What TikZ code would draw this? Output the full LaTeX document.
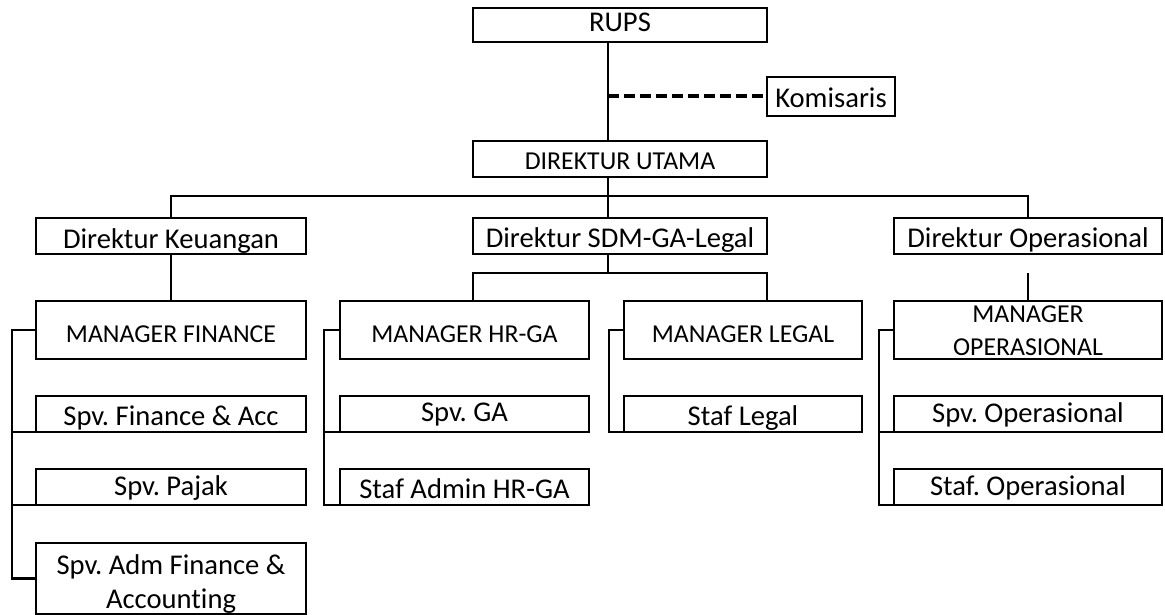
\documentclass[tikz,border=0pt]{standalone}
\usepackage{fontspec}
\setmainfont{Carlito}[Ligatures={NoCommon},RawFeature={-liga;-dlig;-clig}]
\frenchspacing
\newcommand\bigtxt{\fontsize{28.6pt}{34pt}\selectfont}
\newcommand\smtxt{\fontsize{25.8pt}{33pt}\selectfont}
\tikzset{
  box/.style={draw, line width=2.2pt, rectangle, inner sep=0pt, outer sep=0pt, text depth=0pt, font=\bigtxt},
  smallbox/.style={box, font=\smtxt},
  conn/.style={line width=2.2pt},
  dashline/.style={line width=4pt, dash pattern=on 11pt off 5pt},
}
\begin{document}
\begin{tikzpicture}[x=1pt,y=-1pt]
\useasboundingbox (0,0) rectangle (1165,615);
% top
\node[box, minimum width=294pt, minimum height=34pt, text height=14pt] (rups) at (620,25) {RUPS};
\node[box, minimum width=128pt, minimum height=39pt, text height=23pt] (kom) at (831,96.5) {Komisaris};
\node[smallbox, minimum width=294pt, minimum height=36pt, text height=22pt] (du) at (620,159) {DIREKTUR UTAMA};
% directors
\node[box, minimum width=270pt, minimum height=36pt, text height=24pt] (dk) at (171,236) {Direktur Keuangan};
\node[box, minimum width=294pt, minimum height=36pt, text height=22pt] (dsdm) at (620,236) {Direktur SDM-GA-Legal};
\node[box, minimum width=268pt, minimum height=36pt, text height=22pt] (do) at (1028,236) {Direktur Operasional};
% managers
\node[smallbox, minimum width=270pt, minimum height=58pt, text height=24pt] (mf) at (171,330) {MANAGER FINANCE};
\node[smallbox, minimum width=249pt, minimum height=58pt, text height=24pt] (mhr) at (464.5,330) {MANAGER HR-GA};
\node[smallbox, minimum width=238pt, minimum height=58pt, text height=24pt] (mlg) at (743,330) {MANAGER LEGAL};
\node[smallbox, minimum width=268pt, minimum height=58pt, text height=50pt] (mo) at (1028,330) {\begin{tabular}[b]{@{}c@{}}MANAGER\\[0pt]OPERASIONAL\end{tabular}};
% staff column 1
\node[box, minimum width=270pt, minimum height=36pt, text height=22pt] (sfa) at (171,414) {Spv. Finance \& Acc};
\node[box, minimum width=270pt, minimum height=36pt, text height=16pt] (sp) at (171,487) {Spv. Pajak};
\node[box, minimum width=270pt, minimum height=71pt, text height=59pt] (adm) at (171,578.5) {\begin{tabular}[b]{@{}c@{}}Spv. Adm Finance \&\\Account\kern0pt ing\end{tabular}};
% column 2
\node[box, minimum width=249pt, minimum height=36pt, text height=14pt] (sga) at (464.5,414) {Spv. GA};
\node[box, minimum width=249pt, minimum height=36pt, text height=22pt] (sah) at (464.5,487) {Staf Admin HR-GA};
% column 3
\node[box, minimum width=238pt, minimum height=36pt, text height=22pt] (sl) at (743,414) {Staf Legal};
% column 4
\node[box, minimum width=268pt, minimum height=36pt, text height=16pt] (so) at (1028,414) {Spv. Operasional};
\node[box, minimum width=268pt, minimum height=36pt, text height=16pt] (sto) at (1028,487) {Staf. Operasional};
% helper coordinates
\coordinate (spine) at (608,0);
\coordinate (bar) at (0,196);
\coordinate (bar2) at (0,273);
\coordinate (b1) at (12,0);
\coordinate (b2) at (324,0);
\coordinate (b3) at (609,0);
\coordinate (b4) at (879,0);
% connectors
\draw[conn] (rups.south -| spine) -- (du.north -| spine);
\draw[dashline] (kom.west -| spine) -- (kom.west);
\draw[conn] (du.south -| spine) -- (dsdm.north -| spine);
\draw[conn] (dk.north) -- (dk.north |- bar) -- (do.north |- bar) -- (do.north);
\draw[conn] (dsdm.south -| spine) -- (bar2 -| spine);
\draw[conn] (mhr.north -| dsdm.west) -- (bar2 -| dsdm.west) -- (bar2 -| dsdm.east) -- (mlg.north -| dsdm.east);
\draw[conn] (dk.south) -- (mf.north);
\draw[conn] (mo.north) -- (mo.north |- bar2);
% brackets
\draw[conn] (mf.west) -- (mf.west -| b1) -- (adm.west -| b1) -- (adm.west);
\draw[conn] (sfa.south west -| b1) -- (sfa.south west);
\draw[conn] (sp.south west -| b1) -- (sp.south west);
\draw[conn] (mhr.west) -- (mhr.west -| b2) -- (sah.south west -| b2) -- (sah.south west);
\draw[conn] (sga.south west -| b2) -- (sga.south west);
\draw[conn] (mlg.west) -- (mlg.west -| b3) -- (sl.south west -| b3) -- (sl.south west);
\draw[conn] (mo.west) -- (mo.west -| b4) -- (sto.south west -| b4) -- (sto.south west);
\draw[conn] (so.south west -| b4) -- (so.south west);
\end{tikzpicture}
\end{document}
